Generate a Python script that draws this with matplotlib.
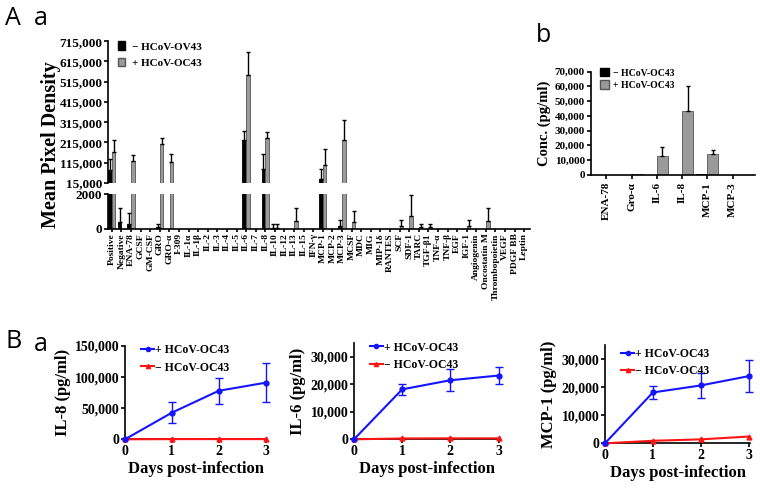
import numpy as np
import matplotlib
matplotlib.use("Agg")
import matplotlib.pyplot as plt
from matplotlib.patches import Patch
from matplotlib.lines import Line2D

plt.rcParams['font.family'] = ['Liberation Serif', 'DejaVu Serif']
plt.rcParams['font.weight'] = 'bold'
plt.rcParams['axes.linewidth'] = 1.2
plt.rcParams['xtick.major.width'] = 1.2
plt.rcParams['ytick.major.width'] = 1.2

# --- A a: cytokine array, mean pixel density
array_names = ['Positive', 'Negative', 'ENA-78', 'GCSF', 'GM-CSF', 'GRO', 'GRO-α', 'I-309',
               'IL-1α', 'IL-1β', 'IL-2', 'IL-3', 'IL-4', 'IL-5', 'IL-6', 'IL-7', 'IL-8',
               'IL-10', 'IL-12', 'IL-13', 'IL-15', 'IFN-γ', 'MCP-1', 'MCP-2', 'MCP-3',
               'MCSF', 'MDC', 'MIG', 'MIP-1δ', 'RANTES', 'SCF', 'SDF-1', 'TARC', 'TGF-β1',
               'TNF-α', 'TNF-β', 'EGF', 'IGF-1', 'Angiogenin', 'Oncostatin M',
               'Thrombopoietin', 'VEGF', 'PDGF BB', 'Leptin']
mock_density = [77000, 400, 300, 0, 0, 140, 0, 0, 0, 0, 0, 0, 0, 0, 229000, 0, 84000,
                60, 0, 0, 0, 0, 36000, 0, 200, 0, 0, 0, 0, 0, 0, 0, 0, 0,
                0, 0, 0, 0, 0, 0, 0, 0, 0, 0]
mock_density_err = [58000, 800, 650, 0, 0, 140, 0, 0, 0, 0, 0, 0, 0, 0, 41000, 0, 74000,
                    240, 0, 0, 0, 0, 48000, 0, 340, 0, 0, 0, 0, 0, 0, 0, 0, 0,
                    0, 0, 0, 0, 0, 0, 0, 0, 0, 0]
oc43_density = [168000, 0, 125000, 0, 0, 208000, 117000, 0, 0, 0, 0, 0, 0, 0, 547000, 0, 237000,
                60, 0, 440, 0, 0, 105000, 0, 229000, 400, 0, 0, 0, 0, 200, 740, 120, 100,
                0, 0, 0, 200, 0, 450, 0, 0, 0, 0]
oc43_density_err = [61000, 0, 26000, 0, 0, 29000, 41000, 0, 0, 0, 0, 0, 0, 0, 113000, 0, 28000,
                    240, 0, 760, 0, 0, 78000, 0, 99000, 640, 0, 0, 0, 0, 340, 1220, 160, 180,
                    0, 0, 0, 340, 0, 750, 0, 0, 0, 0]

# --- A b: ELISA concentrations
elisa_names = ['ENA-78', 'Gro-α', 'IL-6', 'IL-8', 'MCP-1', 'MCP-3']
mock_conc = [0, 150, 0, 300, 800, 0]
oc43_conc = [0, 400, 12800, 43600, 14100, 0]
oc43_conc_err = [0, 0, 6400, 16400, 3100, 0]

# --- B a: time course
days = [0, 1, 2, 3]
il8_inf = [0, 42800, 78000, 91000]
il8_inf_err = [0, 16700, 21000, 31000]
il8_mock = [0, 300, 300, 300]
il6_inf = [0, 18100, 21400, 23100]
il6_inf_err = [0, 1900, 3900, 3100]
il6_mock = [0, 300, 350, 350]
mcp1_inf = [0, 18100, 20600, 23900]
mcp1_inf_err = [0, 2400, 4400, 5800]
mcp1_mock = [0, 900, 1400, 2400]

GREY = '#9a9a9a'
GREY_EDGE = '#555555'
BLUE = '#1414ff'
RED = '#ff1414'
W, H = 760, 488


def box(left, top, right, bottom):
    return [left / W, 1 - bottom / H, (right - left) / W, (bottom - top) / H]


def comma(v):
    return f"{int(v):,}"


def draw_bars(ax, x, vals, errs, off, width, color, edge):
    vals = np.asarray(vals, float)
    errs = np.asarray(errs, float)
    ax.bar(x + off, vals, width, color=color, edgecolor=edge, linewidth=0.6)
    m = errs > 0
    ax.errorbar(x[m] + off, vals[m], yerr=[np.zeros(m.sum()), errs[m]], fmt='none',
                ecolor='black', elinewidth=1, capsize=1.5, capthick=1)


fig = plt.figure(figsize=(7.6, 4.88), dpi=100)

# ---------- A a (broken axis) ----------
xa = np.arange(len(array_names))
ax_top = fig.add_axes(box(108, 41.2, 530, 183))
ax_bot = fig.add_axes(box(108, 194.5, 530, 229))
for ax in (ax_top, ax_bot):
    draw_bars(ax, xa, mock_density, mock_density_err, -0.2, 0.36, 'black', 'black')
    draw_bars(ax, xa, oc43_density, oc43_density_err, 0.2, 0.36, GREY, GREY_EDGE)
    ax.set_xlim(-0.4, 43.6)
    ax.spines['right'].set_visible(False)
    ax.spines['top'].set_visible(False)
    ax.tick_params(axis='y', direction='out', length=3, labelsize=9.5, pad=1)

ax_top.set_ylim(15000, 715000)
top_ticks = np.arange(15000, 715001, 100000)
ax_top.set_yticks(top_ticks)
ax_top.set_yticklabels([comma(t) for t in top_ticks])
ax_top.spines['bottom'].set_visible(False)
ax_top.set_xticks([])

ax_bot.set_ylim(0, 2000)
ax_bot.set_yticks([0, 2000])
ax_bot.set_yticklabels(['0', '2000'])
ax_bot.set_xticks(xa)
ax_bot.set_xticklabels(array_names, rotation=90, fontsize=6.8)
ax_bot.tick_params(axis='x', length=2, pad=1)

fig.text(51 / W, 1 - 145 / H, 'Mean Pixel Density', rotation=90, ha='center', va='center',
         fontsize=14.5, fontweight='bold')

ax_top.legend(handles=[Patch(facecolor='black', edgecolor='black', label='− HCoV-OV43'),
                       Patch(facecolor=GREY, edgecolor=GREY_EDGE, label='+ HCoV-OC43')],
              loc='upper left', bbox_to_anchor=(0.012, 1.03), frameon=False, fontsize=8,
              handlelength=0.7, handleheight=0.8, handletextpad=0.6, labelspacing=0.55,
              borderaxespad=0)

# ---------- A b ----------
xb = np.arange(len(elisa_names))
ax_b = fig.add_axes(box(590.5, 71.5, 755, 175))
draw_bars(ax_b, xb, mock_conc, [0] * len(xb), -0.22, 0.44, 'black', 'black')
draw_bars(ax_b, xb, oc43_conc, oc43_conc_err, 0.22, 0.44, GREY, GREY_EDGE)
ax_b.set_xlim(-0.63, 5.89)
ax_b.set_ylim(0, 70000)
b_ticks = np.arange(0, 70001, 10000)
ax_b.set_yticks(b_ticks)
ax_b.set_yticklabels([comma(t) for t in b_ticks])
ax_b.set_xticks(xb)
ax_b.set_xticklabels(elisa_names, rotation=90, fontsize=8)
ax_b.spines['right'].set_visible(False)
ax_b.spines['top'].set_visible(False)
ax_b.tick_params(axis='y', length=3, labelsize=8, pad=1)
ax_b.tick_params(axis='x', length=3, pad=2)
ax_b.set_ylabel('Conc. (pg/ml)', fontsize=10.5, fontweight='bold', labelpad=3)
ax_b.legend(handles=[Patch(facecolor='black', edgecolor='black', label='− HCoV-OC43'),
                     Patch(facecolor=GREY, edgecolor=GREY_EDGE, label='+ HCoV-OC43')],
            loc='upper left', bbox_to_anchor=(0.035, 1.07), frameon=False, fontsize=7,
            handlelength=0.9, handleheight=0.9, handletextpad=0.4, labelspacing=0.3,
            borderaxespad=0)

# ---------- B a ----------
line_panels = [
    (box(125, 346, 267, 439.3), 'IL-8 (pg/ml)', il8_inf, il8_inf_err, il8_mock,
     150000, [0, 50000, 100000, 150000], (0.08, 1.07)),
    (box(354, 342.7, 500, 439.3), 'IL-6 (pg/ml)', il6_inf, il6_inf_err, il6_mock,
     35000, [0, 10000, 20000, 30000], (0.075, 1.06)),
    (box(605, 345, 750, 443.3), 'MCP-1 (pg/ml)', mcp1_inf, mcp1_inf_err, mcp1_mock,
     35000, [0, 10000, 20000, 30000], (0.08, 1.02)),
]
for rect, ylab, inf, inf_err, mock, ytop, yt, leg_xy in line_panels:
    ax = fig.add_axes(rect)
    ax.errorbar(days, inf, yerr=inf_err, color=BLUE, marker='o', markersize=3.5, lw=1.5,
                elinewidth=1, capsize=3, capthick=1, clip_on=False, zorder=3)
    ax.plot(days, mock, color=RED, marker='^', markersize=3.5, lw=1.5, clip_on=False, zorder=3)
    ax.set_xlim(0, 3.03)
    ax.set_ylim(0, ytop)
    ax.set_xticks(days)
    ax.set_yticks(yt)
    ax.set_yticklabels([comma(t) for t in yt])
    ax.spines['right'].set_visible(False)
    ax.spines['top'].set_visible(False)
    ax.tick_params(length=3, labelsize=10, pad=1)
    ax.set_ylabel(ylab, fontsize=12, fontweight='bold', labelpad=3)
    ax.set_xlabel('Days post-infection', fontsize=12, fontweight='bold', labelpad=2)
    ax.legend(handles=[Line2D([], [], color=BLUE, marker='o', markersize=3, lw=1.5,
                              label='+ HCoV-OC43'),
                       Line2D([], [], color=RED, marker='^', markersize=3, lw=1.5,
                              label='− HCoV-OC43')],
              loc='upper left', bbox_to_anchor=leg_xy, frameon=False, fontsize=8.5,
              handlelength=1.1, handletextpad=0.1, labelspacing=0.45, borderaxespad=0)

# panel letters
for txt, x, y in [('A', 5, 6), ('a', 34, 6), ('b', 536, 23), ('B', 5, 329), ('a', 34, 332)]:
    fig.text(x / W, 1 - y / H, txt, fontsize=18, family='Open Sans', fontweight='normal',
             va='top', ha='left')

fig.savefig('out.png', dpi=100)
